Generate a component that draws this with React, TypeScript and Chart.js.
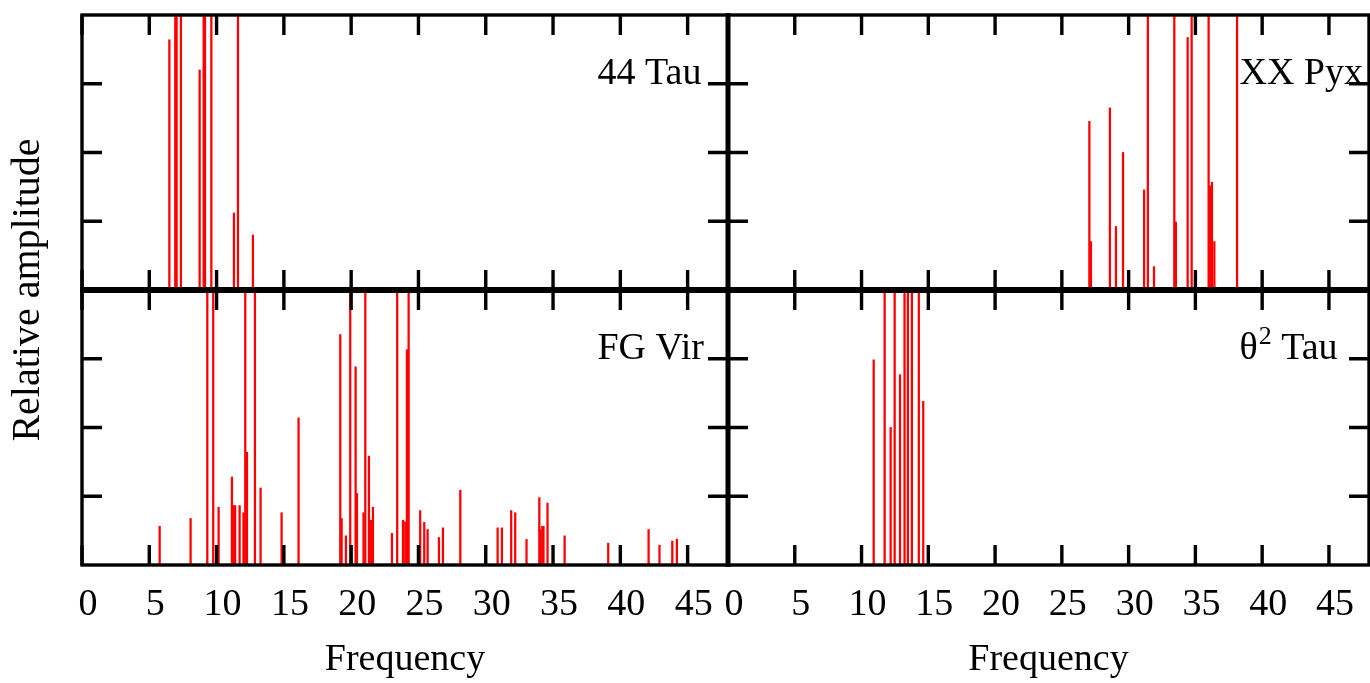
import React, { useEffect, useRef } from 'react';
import { Chart, registerables } from 'chart.js';

Chart.register(...registerables);

// ---------- data ----------
const xTickStep = 5;
const xMin = 0;
const xMax = 48;
const yMin = 0;
const yMax = 1;
const yTickStep = 0.25;

const panelNames = ['44 Tau', 'XX Pyx', 'FG Vir', 'θ² Tau'];
const xTitle = 'Frequency';
const yTitle = 'Relative amplitude';

// 44 Tau (top left)
const tau44Freq = [6.49, 6.93, 7.03, 7.35, 8.74, 9.04, 9.14, 9.61, 11.29, 11.59, 12.7];
const tau44Amp = [0.91, 1.2, 1.2, 1.2, 0.8, 1.2, 1.2, 1.2, 0.28, 1.2, 0.2];

// XX Pyx (top right)
const xxPyxFreq = [27.06, 27.18, 28.6, 29.05, 29.58, 31.16, 31.44, 31.9, 33.42, 33.54, 34.42, 34.72, 35.99, 36.1, 36.24, 36.42, 38.12];
const xxPyxAmp = [0.613, 0.176, 0.662, 0.231, 0.5, 0.364, 1.2, 0.085, 1.2, 0.247, 0.918, 1.2, 1.2, 0.378, 0.392, 0.176, 1.2];

// FG Vir (bottom left)
const fgVirFreq = [
  5.77, 8.07, 9.31, 9.75, 10.15, 11.14, 11.3, 11.38, 11.71, 12.0, 12.13, 12.26, 12.85, 13.27, 14.83, 16.09,
  19.19, 19.29, 19.61, 19.93, 20.33, 20.43, 20.92, 21.05, 21.32, 21.47, 21.62, 23.03, 23.42, 23.85, 24.02,
  24.14, 24.27, 25.13, 25.43, 25.68, 26.52, 26.82, 28.11, 30.88, 31.2, 31.89, 32.19, 33.03, 33.98, 34.07,
  34.2, 34.29, 34.59, 35.86, 39.1, 42.1, 42.91, 43.86, 44.2,
];
const fgVirAmp = [
  0.141, 0.169, 1.2, 1.2, 0.21, 0.32, 0.216, 0.216, 0.216, 0.19, 1.2, 0.41, 1.2, 0.28, 0.19, 0.535,
  0.838, 0.169, 0.106, 1.2, 0.721, 0.26, 0.19, 1.2, 0.396, 0.163, 0.21, 0.115, 1.2, 0.163, 0.157,
  0.783, 1.2, 0.198, 0.155, 0.129, 0.1, 0.135, 0.272, 0.135, 0.135, 0.198, 0.19, 0.093, 0.245, 0.129,
  0.141, 0.141, 0.225, 0.106, 0.079, 0.129, 0.072, 0.087, 0.094,
];

// theta^2 Tau (bottom right)
const theta2TauFreq = [10.91, 11.73, 12.18, 12.48, 12.88, 13.22, 13.47, 13.77, 14.29, 14.62];
const theta2TauAmp = [0.746, 1.2, 0.5, 1.2, 0.692, 1.2, 1.2, 1.2, 1.2, 0.595];

// panel label anchor (data units)
const labelAnchorX = 38.3;
const labelAnchorY = 0.75;

// ---------- styles ----------
const FONT = "'Liberation Serif', 'Times New Roman', Times, serif";
const BAR_COLOR = '#ff0000';
const TICK_LEN = 20;
const X_AXIS_HEIGHT = 118;
const FRAME_WIDTH = 3.4;

const PANELS = [
  { x: 'xL', y: 'yTL', name: panelNames[0] },
  { x: 'xR', y: 'yTR', name: panelNames[1] },
  { x: 'xL', y: 'yBL', name: panelNames[2] },
  { x: 'xR', y: 'yBR', name: panelNames[3] },
];

const toPoints = (xs: number[], ys: number[]) => xs.map((x, i) => ({ x, y: ys[i] }));

function drawLabel(ctx: CanvasRenderingContext2D, text: string, x: number, y: number) {
  const big = `38px ${FONT}`;
  const small = `26px ${FONT}`;
  const idx = text.indexOf('²');
  ctx.textAlign = 'left';
  ctx.textBaseline = 'alphabetic';
  if (idx < 0) {
    ctx.font = big;
    ctx.fillText(text, x, y);
    return;
  }
  const before = text.slice(0, idx);
  const after = text.slice(idx + 1);
  ctx.font = big;
  ctx.fillText(before, x, y);
  let cx = x + ctx.measureText(before).width + 1;
  ctx.font = small;
  ctx.fillText('2', cx, y - 15);
  cx += ctx.measureText('2').width;
  ctx.font = big;
  ctx.fillText(after, cx, y);
}

const framePlugin = {
  id: 'panelFrames',
  afterDatasetsDraw(chart: any) {
    const ctx = chart.ctx;
    ctx.save();
    ctx.strokeStyle = '#000';
    ctx.fillStyle = '#000';
    ctx.lineCap = 'butt';
    PANELS.forEach((p) => {
      const xs = chart.scales[p.x];
      const ys = chart.scales[p.y];
      const l = xs.left, r = xs.right, t = ys.top, b = ys.bottom;
      ctx.lineWidth = FRAME_WIDTH;
      ctx.strokeRect(l, t, r - l, b - t);
      ctx.beginPath();
      xs.ticks.forEach((tk: any) => {
        const px = xs.getPixelForValue(tk.value);
        ctx.moveTo(px, b);
        ctx.lineTo(px, b - TICK_LEN);
        ctx.moveTo(px, t);
        ctx.lineTo(px, t + TICK_LEN);
      });
      ys.ticks.forEach((tk: any) => {
        if (tk.value <= yMin || tk.value >= yMax) return;
        const py = ys.getPixelForValue(tk.value);
        ctx.moveTo(l, py);
        ctx.lineTo(l + TICK_LEN, py);
        ctx.moveTo(r, py);
        ctx.lineTo(r - TICK_LEN, py);
      });
      ctx.stroke();
      drawLabel(ctx, p.name, xs.getPixelForValue(labelAnchorX), ys.getPixelForValue(labelAnchorY));
    });
    const xL = chart.scales.xL;
    const xR = chart.scales.xR;
    const yTL = chart.scales.yTL;
    const yBL = chart.scales.yBL;
    ctx.lineWidth = 6;
    ctx.beginPath();
    ctx.moveTo(xL.left - 1.7, yTL.bottom);
    ctx.lineTo(xR.right + 1.7, yTL.bottom);
    ctx.stroke();
    ctx.lineWidth = 5;
    ctx.beginPath();
    ctx.moveTo(xL.right, yTL.top - 1.7);
    ctx.lineTo(xL.right, yBL.bottom + 1.7);
    ctx.stroke();
    ctx.restore();
  },
};

const xScale = (weight: number, stackWeight: number) => ({
  type: 'linear',
  position: 'bottom',
  stack: 'xstack',
  stackWeight,
  weight,
  min: xMin,
  max: xMax,
  offset: false,
  grid: { display: false, drawTicks: false, offset: false },
  border: { display: false },
  ticks: {
    stepSize: xTickStep,
    includeBounds: false,
    autoSkip: false,
    maxRotation: 0,
    padding: 17,
    labelOffset: 6,
    color: '#000',
    font: { family: FONT, size: 38 },
  },
  title: {
    display: true,
    text: xTitle,
    color: '#000',
    font: { family: FONT, size: 38 },
    padding: { top: 10, bottom: 0 },
  },
  afterFit: (s: any) => {
    s.paddingLeft = 0;
    s.paddingRight = 0;
    s.height = X_AXIS_HEIGHT;
  },
});

const yScale = (position: string, stack: string, weight: number) => ({
  type: 'linear',
  position,
  stack,
  stackWeight: 1,
  weight,
  min: yMin,
  max: yMax,
  display: true,
  grid: { display: false, drawTicks: false },
  border: { display: false },
  ticks: { display: false, stepSize: yTickStep },
  afterFit: (s: any) => {
    s.width = 0;
    s.paddingTop = 0;
    s.paddingBottom = 0;
  },
});

const barDs = (xs: number[], ys: number[], xAxisID: string, yAxisID: string) => ({
  type: 'bar',
  data: toPoints(xs, ys),
  xAxisID,
  yAxisID,
  backgroundColor: BAR_COLOR,
  borderWidth: 0,
  barThickness: 1.6,
  grouped: false,
  clip: 0,
});

export default function App() {
  const ref = useRef<HTMLCanvasElement | null>(null);
  useEffect(() => {
    if (!ref.current) return;
    const chart = new Chart(ref.current, {
      type: 'bar',
      data: {
        datasets: [
          barDs(tau44Freq, tau44Amp, 'xL', 'yTL'),
          barDs(xxPyxFreq, xxPyxAmp, 'xR', 'yTR'),
          barDs(fgVirFreq, fgVirAmp, 'xL', 'yBL'),
          barDs(theta2TauFreq, theta2TauAmp, 'xR', 'yBR'),
        ] as any,
      },
      options: {
        responsive: false,
        animation: false,
        devicePixelRatio: 1,
        events: [],
        layout: { padding: { left: 0, right: 1, top: 15, bottom: 0 } },
        plugins: {
          legend: { display: false },
          tooltip: { enabled: false },
          title: {
            display: true,
            text: yTitle,
            position: 'left',
            fullSize: false,
            color: '#000',
            font: { family: FONT, size: 40, weight: 'normal' },
            padding: { top: 4, bottom: 30 },
          },
        },
        scales: {
          xL: xScale(0, 646),
          xR: xScale(1, 641),
          yTL: yScale('left', 'ylstack', 1),
          yBL: yScale('left', 'ylstack', 0),
          yTR: yScale('right', 'yrstack', 0),
          yBR: yScale('right', 'yrstack', 1),
        } as any,
      },
      plugins: [framePlugin],
    });
    return () => chart.destroy();
  }, []);
  return (
    <div style={{ position: 'absolute', left: 0, top: 0, width: 1370, height: 683, background: '#fff' }}>
      <canvas ref={ref} width={1370} height={683} style={{ display: 'block' }} />
    </div>
  );
}
